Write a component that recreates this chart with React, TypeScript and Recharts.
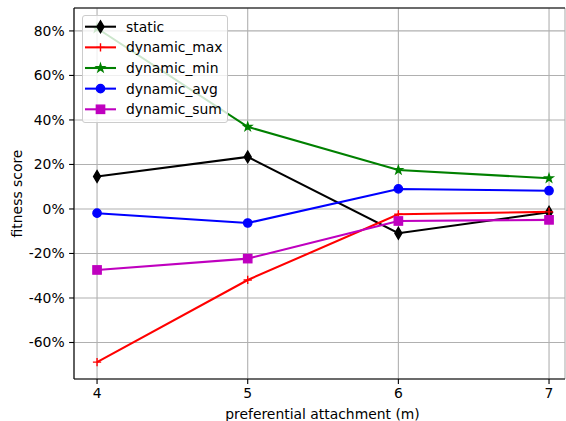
import React from 'react';
import { LineChart, Line, XAxis, YAxis, CartesianGrid, ReferenceLine } from 'recharts';

const mValues = [4, 5, 6, 7];
const staticVals = [14.6, 23.4, -10.9, -1.5];
const dynamicMax = [-68.8, -31.9, -2.4, -1.3];
const dynamicMin = [81.2, 36.9, 17.5, 13.8];
const dynamicAvg = [-1.9, -6.3, 9.0, 8.2];
const dynamicSum = [-27.4, -22.3, -5.4, -4.9];
const yTicks = [-60, -40, -20, 0, 20, 40, 60, 80];
const xTicks = [4, 5, 6, 7];

const rows = mValues.map((m, i) => ({
  m,
  static: staticVals[i],
  dynamic_max: dynamicMax[i],
  dynamic_min: dynamicMin[i],
  dynamic_avg: dynamicAvg[i],
  dynamic_sum: dynamicSum[i],
}));

const FONT = 'DejaVu Sans, sans-serif';
const FS = 13.9;
const Y_MIN = -76.4;
const Y_MAX = 90.3;

type Shape = 'd' | '+' | '*' | 'o' | 's';

const series: { key: string; color: string; shape: Shape }[] = [
  { key: 'static', color: '#000000', shape: 'd' },
  { key: 'dynamic_max', color: '#ff0000', shape: '+' },
  { key: 'dynamic_min', color: '#008000', shape: '*' },
  { key: 'dynamic_avg', color: '#0000ff', shape: 'o' },
  { key: 'dynamic_sum', color: '#bf00bf', shape: 's' },
];

function starPath(cx: number, cy: number, ro: number, ri: number) {
  const pts: string[] = [];
  for (let k = 0; k < 10; k++) {
    const r = k % 2 === 0 ? ro : ri;
    const a = -Math.PI / 2 + (k * Math.PI) / 5;
    pts.push(`${(cx + r * Math.cos(a)).toFixed(2)},${(cy + r * Math.sin(a)).toFixed(2)}`);
  }
  return 'M' + pts.join('L') + 'Z';
}

function Marker({ cx, cy, shape, color }: { cx: number; cy: number; shape: Shape; color: string }) {
  const sw = 1.39;
  if (shape === 'd') {
    const h = 5.85, w = 3.5;
    return <path d={`M${cx},${cy - h}L${cx + w},${cy}L${cx},${cy + h}L${cx - w},${cy}Z`} fill={color} stroke={color} strokeWidth={sw} />;
  }
  if (shape === '+') {
    const h = 4.15;
    return <path d={`M${cx - h},${cy}L${cx + h},${cy}M${cx},${cy - h}L${cx},${cy + h}`} stroke={color} strokeWidth={sw} fill="none" />;
  }
  if (shape === '*') {
    return <path d={starPath(cx, cy, 4.15, 4.15 * 0.381966)} fill={color} stroke={color} strokeWidth={sw} strokeLinejoin="miter" />;
  }
  if (shape === 'o') {
    return <circle cx={cx} cy={cy} r={4.15} fill={color} stroke={color} strokeWidth={sw} />;
  }
  const s = 4.15;
  return <rect x={cx - s} y={cy - s} width={2 * s} height={2 * s} fill={color} stroke={color} strokeWidth={sw} />;
}

const makeDot = (shape: Shape, color: string) => (props: any) => {
  const { cx, cy, index } = props;
  if (cx == null || cy == null) return <g key={`e-${index}`} />;
  return (
    <g key={`${shape}-${index}`}>
      <Marker cx={cx} cy={cy} shape={shape} color={color} />
    </g>
  );
};

const LegendBox = () => (
  <div
    style={{
      position: 'absolute',
      left: 82,
      top: 15,
      width: 146,
      height: 108,
      background: 'rgba(255,255,255,0.8)',
      border: '1px solid #cccccc',
      borderRadius: 3,
      boxSizing: 'border-box',
    }}
  >
    <svg width={144} height={106} style={{ position: 'absolute', left: 0, top: 0 }}>
      {series.map((s, i) => {
        const y = 10.7 + i * 20.65;
        return (
          <g key={s.key}>
            <line x1={2} x2={33} y1={y} y2={y} stroke={s.color} strokeWidth={2.08} />
            <Marker cx={17.5} cy={y} shape={s.shape} color={s.color} />
            <text x={43} y={y} dy="0.36em" fontSize={FS} fontFamily={FONT} fill="#000">
              {s.key}
            </text>
          </g>
        );
      })}
    </svg>
  </div>
);

const XLabel = (props: any) => {
  const vb = props.viewBox || { x: 74, y: 379, width: 491, height: 42 };
  return (
    <text x={vb.x + vb.width / 2 + 3} y={419} textAnchor="middle" fontSize={FS} fontFamily={FONT} fill="#000">
      preferential attachment (m)
    </text>
  );
};

const YLabel = (props: any) => {
  const vb = props.viewBox || { x: 0, y: 8, width: 74, height: 371 };
  const cy = vb.y + vb.height / 2;
  return (
    <text x={17} y={cy} transform={`rotate(-90 17 ${cy})`} textAnchor="middle" dy="0.36em" fontSize={FS} fontFamily={FONT} fill="#000">
      fitness score
    </text>
  );
};

export default function App() {
  return (
    <div style={{ position: 'absolute', left: 0, top: 0, width: 566, height: 421, background: '#fff' }}>
      <LineChart width={566} height={421} data={rows} margin={{ top: 8, right: 1, bottom: 0, left: 0 }}>
        <CartesianGrid stroke="#b0b0b0" strokeWidth={1.1} />
        <XAxis
          type="number"
          dataKey="m"
          domain={[3.847, 7.106]}
          ticks={xTicks}
          allowDataOverflow
          height={42}
          tickSize={4.9}
          tickMargin={4}
          axisLine={{ stroke: '#000', strokeWidth: 1.1 }}
          tickLine={{ stroke: '#000', strokeWidth: 1.1 }}
          tick={{ fill: '#000', fontSize: FS, fontFamily: FONT }}
          label={<XLabel />}
        />
        <YAxis
          type="number"
          domain={[Y_MIN, Y_MAX]}
          ticks={yTicks}
          allowDataOverflow
          width={74}
          tickSize={4.9}
          tickMargin={4.5}
          tickFormatter={(v: number) => `${v}%`}
          axisLine={{ stroke: '#000', strokeWidth: 1.1 }}
          tickLine={{ stroke: '#000', strokeWidth: 1.1 }}
          tick={{ fill: '#000', fontSize: FS, fontFamily: FONT }}
          label={<YLabel />}
        />
        <ReferenceLine y={Y_MAX} stroke="#000" strokeWidth={1.1} ifOverflow="visible" />
        {series.map((s) => (
          <Line
            key={s.key}
            type="linear"
            dataKey={s.key}
            stroke={s.color}
            strokeWidth={2.08}
            dot={makeDot(s.shape, s.color)}
            activeDot={false}
            isAnimationActive={false}
          />
        ))}
      </LineChart>
      <LegendBox />
    </div>
  );
}
